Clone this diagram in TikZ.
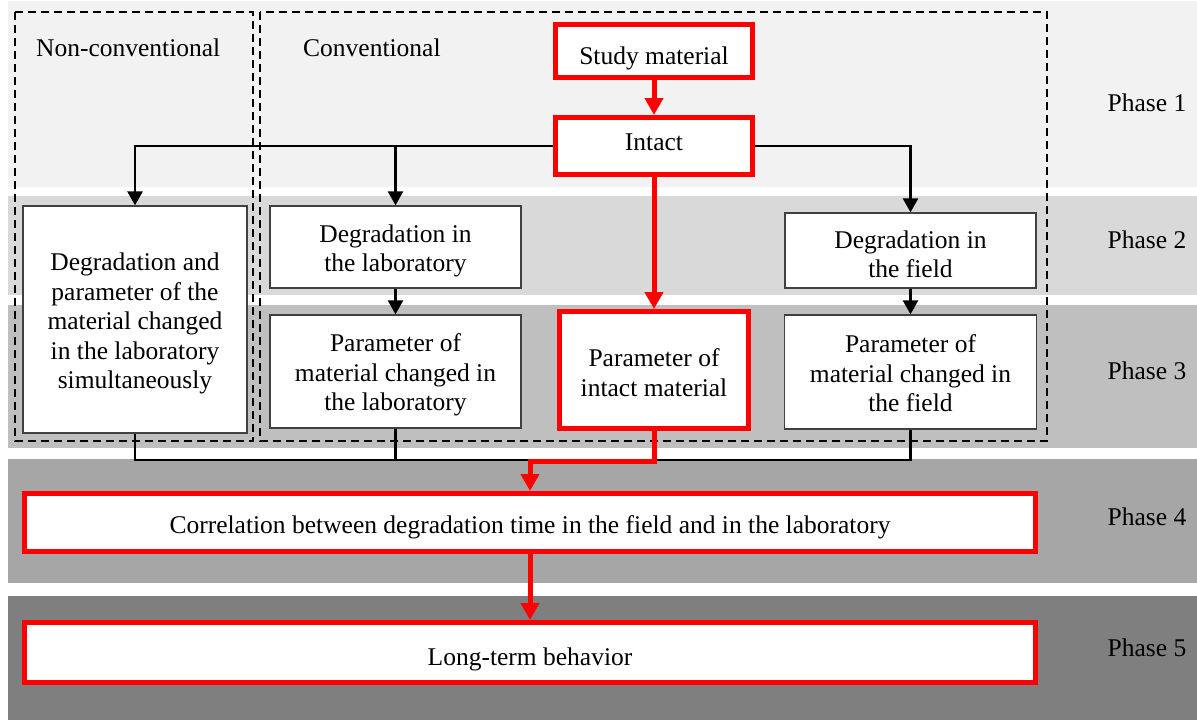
\documentclass[tikz,border=0pt]{standalone}
\usepackage{fontspec}
\setmainfont{Liberation Serif}
\usetikzlibrary{arrows.meta}
\definecolor{ph1}{HTML}{F2F2F2}
\definecolor{ph2}{HTML}{D9D9D9}
\definecolor{ph3}{HTML}{BFBFBF}
\definecolor{ph4}{HTML}{A6A6A6}
\definecolor{ph5}{HTML}{7F7F7F}
\definecolor{boxline}{HTML}{404040}
\definecolor{hired}{HTML}{FF0000}
\tikzset{
  txt/.style={font=\fontsize{25.5}{29.5}\selectfont, align=center, inner sep=0pt},
  plainbox/.style={draw=boxline, line width=1.3pt, fill=white, inner sep=0pt},
  redbox/.style={draw=hired, line width=5pt, fill=white, inner sep=0pt},
  blk/.style={line width=2.6pt, draw=black},
  blkarr/.style={blk, -{Triangle[length=14pt,width=15pt]}},
  redline/.style={line width=5pt, draw=hired},
  redarr/.style={redline, -{Triangle[length=17pt,width=18pt]}},
  dashbox/.style={draw=black, line width=2.2pt, dash pattern=on 8pt off 5pt},
  phaselbl/.style={font=\fontsize{25.5}{29.5}\selectfont, anchor=base, inner sep=0pt}
}
\begin{document}
\begin{tikzpicture}[x=1pt,y=-1pt]
\useasboundingbox (0,0) rectangle (1197,720);
% phase bands
\fill[ph1] (8,1) rectangle (1197,187);
\fill[ph2] (8,196) rectangle (1197,295);
\fill[ph3] (8,305) rectangle (1197,448);
\fill[ph4] (8,459) rectangle (1197,583);
\fill[ph5] (8,596) rectangle (1197,720);
% dashed groups
\draw[dashbox] (15,12) rectangle (253,441);
\draw[dashbox] (260,12) rectangle (1047,441);
\node[txt, anchor=base west] (lnc) at (36,56) {Non-conventional};
\node[txt, anchor=base west] (lc) at (303,56) {Conventional};
% phase labels
\node[phaselbl] (p1) at (1147,111) {Phase 1};
\node[phaselbl] (p2) at (1147,248) {Phase 2};
\node[phaselbl] (p3) at (1147,379) {Phase 3};
\node[phaselbl] (p4) at (1147,525) {Phase 4};
\node[phaselbl] (p5) at (1147,656) {Phase 5};
% boxes
\node[redbox, minimum width=197pt, minimum height=53pt] (study) at (654,51) {};
\node[redbox, minimum width=197pt, minimum height=57pt] (intact) at (654,146) {};
\node[plainbox, minimum width=224pt, minimum height=227pt] (nonconv) at (135,319.5) {};
\node[plainbox, minimum width=251pt, minimum height=82pt] (deglab) at (395.5,247) {};
\node[plainbox, minimum width=251pt, minimum height=113pt] (parlab) at (395.5,371.5) {};
\node[redbox, minimum width=189pt, minimum height=117pt] (parint) at (654,370) {};
\node[plainbox, minimum width=251pt, minimum height=75pt] (degfield) at (910.5,250.5) {};
\node[plainbox, minimum width=252pt, minimum height=114pt] (parfield) at (910.5,372) {};
\node[redbox, minimum width=1011pt, minimum height=58pt] (corr) at (530,522.5) {};
\node[redbox, minimum width=1011pt, minimum height=60pt] (longt) at (530,652.5) {};
% box texts
\node[txt] (study-t) at ([yshift=-7pt]study.center) {Study material};
\node[txt] (intact-t) at ([yshift=4pt]intact.center) {Intact};
\node[txt] (nonconv-t) at ([yshift=-4pt]nonconv.center)
  {Degradation and\\parameter of the\\material changed\\in the laboratory\\simultaneously};
\node[txt] (deglab-t) at ([yshift=-4pt]deglab.center) {Degradation in\\the laboratory};
\node[txt] (parlab-t) at ([yshift=-3.5pt]parlab.center) {Parameter of\\material changed in\\the laboratory};
\node[txt] (parint-t) at ([yshift=-2.5pt]parint.center) {Parameter of\\intact material};
\node[txt] (degfield-t) at ([yshift=-4pt]degfield.center) {Degradation in\\the field};
\node[txt] (parfield-t) at ([yshift=-1.5pt]parfield.center) {Parameter of\\material changed in\\the field};
\node[txt] (corr-t) at ([yshift=-5pt]corr.center)
  {Correlation between degradation time in the field and in the laboratory};
\node[txt] (longt-t) at ([yshift=-7pt]longt.center) {Long-term behavior};
% black connectors
\coordinate (jl) at (deglab.north |- intact.west);
\draw[blkarr] (intact.west) -| (nonconv.north);
\draw[blkarr] (jl) -- (deglab.north);
\draw[blkarr] (intact.east) -| (degfield.north);
\draw[blkarr] (deglab.south) -- (parlab.north);
\draw[blkarr] (degfield.south) -- (parfield.north);
\coordinate (busL) at (nonconv.south |- 0,460);
\coordinate (busR) at (parfield.south |- 0,460);
\coordinate (busM) at (parlab.south |- 0,460);
\draw[blk] (nonconv.south) -- (busL) -- (busR) -- (parfield.south);
\draw[blk] (parlab.south) -- (busM);
% red connectors
\coordinate (rbend) at (parint.south |- 0,461);
\draw[redarr] (study.south) -- (intact.north);
\draw[redarr] (intact.south) -- (parint.north);
\draw[redarr] (parint.south) -- (rbend) -| (corr.north);
\draw[redarr] (corr.south) -- (longt.north);
\end{tikzpicture}
\end{document}
